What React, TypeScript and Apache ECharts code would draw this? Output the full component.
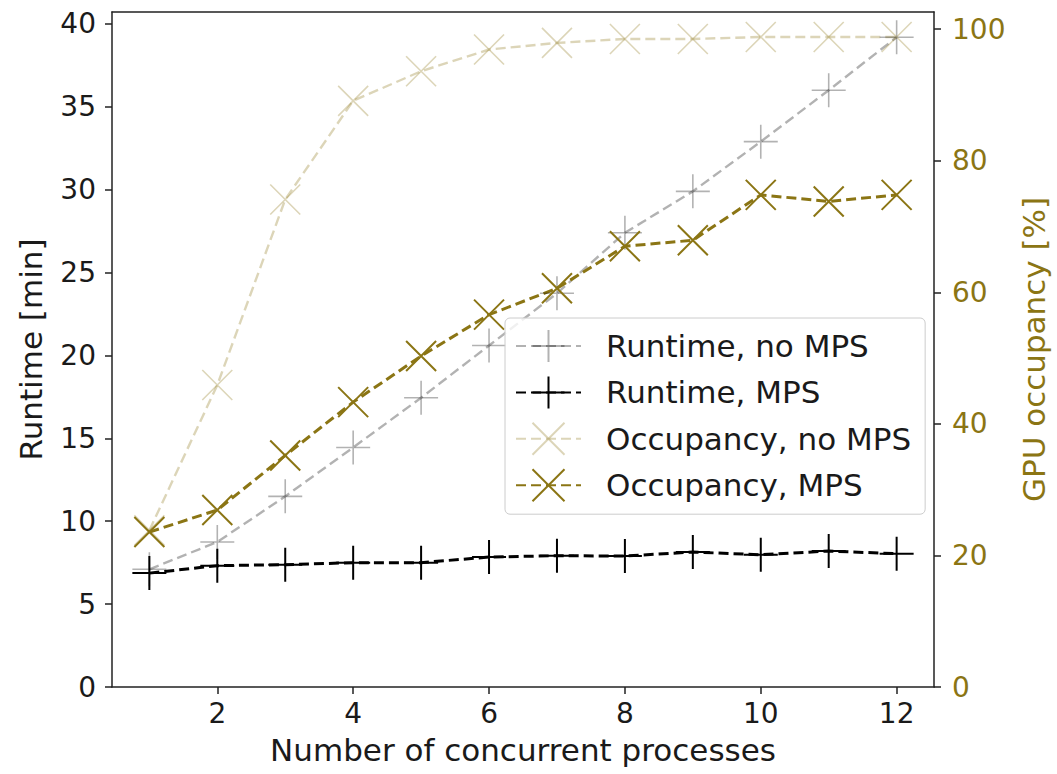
import React, { useEffect, useRef } from 'react';
import * as echarts from 'echarts';

const processes = [1, 2, 3, 4, 5, 6, 7, 8, 9, 10, 11, 12];
const runtimeNoMps = [7.1, 8.75, 11.5, 14.45, 17.45, 20.6, 23.75, 27.4, 29.9, 32.9, 36.0, 39.2];
const runtimeMps = [6.87, 7.32, 7.38, 7.5, 7.5, 7.84, 7.92, 7.9, 8.14, 7.98, 8.2, 8.04];
const occupancyNoMps = [23.8, 45.9, 74.1, 89.1, 93.6, 96.9, 97.9, 98.5, 98.5, 98.8, 98.8, 98.8];
const occupancyMps = [23.55, 26.9, 35.2, 43.3, 50.3, 56.6, 60.6, 67.0, 67.9, 74.8, 73.8, 74.8];

const xTicks = [2, 4, 6, 8, 10, 12];
const runtimeTicks = [0, 5, 10, 15, 20, 25, 30, 35, 40];
const occupancyTicks = [0, 20, 40, 60, 80, 100];

const FONT = 'DejaVu Sans';
const GOLD = '#8b7514';
const GOLD_LIGHT = 'rgba(139,117,20,0.3)';
const GRAY = 'rgba(0,0,0,0.3)';
const BLACK = '#000000';
const TEXT = '#1a1a1a';

const PLUS = 'path://M10,0 L10,20 M0,10 L20,10';
const CROSS = 'path://M0,0 L20,20 M20,0 L0,20';

const pairs = (ys: number[]) => processes.map((x, i) => [x, ys[i]]);

export default function App() {
  const ref = useRef<HTMLDivElement>(null);
  useEffect(() => {
    document.body.style.margin = '0';
    const chart = echarts.init(ref.current!, null, { renderer: 'svg' });
    const mk = (name: string, data: number[], yAxisIndex: number, color: string, symbol: string, size: number, lw: number, mw: number) => ({
      name,
      type: 'line',
      yAxisIndex,
      data: pairs(data),
      symbol,
      symbolSize: size,
      symbolKeepAspect: true,
      showAllSymbol: true,
      lineStyle: { color, width: lw, type: [10, 5] },
      itemStyle: { color: 'transparent', borderColor: color, borderWidth: mw },
      emphasis: { disabled: true },
    });
    chart.setOption({
      animation: false,
      textStyle: { fontFamily: FONT },
      grid: { left: 112, right: 118, top: 12, bottom: 87, containLabel: false },
      xAxis: [
        {
          type: 'value',
          min: 0.45,
          max: 12.55,
          name: 'Number of concurrent processes',
          nameLocation: 'middle',
          nameGap: 47,
          nameTextStyle: { fontSize: 31, color: TEXT, fontFamily: FONT },
          axisLine: { show: true, onZero: false, lineStyle: { color: '#222', width: 1.5 } },
          axisTick: { show: true, length: 7, lineStyle: { color: '#222', width: 1.5 }, customValues: xTicks },
          axisLabel: { fontSize: 28, color: TEXT, margin: 12, fontFamily: FONT, customValues: xTicks },
          splitLine: { show: false },
        },
        {
          type: 'value',
          position: 'top',
          min: 0.45,
          max: 12.55,
          axisLine: { show: true, onZero: false, lineStyle: { color: '#222', width: 1.5 } },
          axisTick: { show: false },
          axisLabel: { show: false },
          splitLine: { show: false },
        },
      ],
      yAxis: [
        {
          type: 'value',
          min: 0,
          max: 40.72,
          name: 'Runtime [min]',
          nameLocation: 'middle',
          nameRotate: 90,
          nameGap: 66,
          nameTextStyle: { fontSize: 31, color: TEXT, fontFamily: FONT },
          axisLine: { show: true, onZero: false, lineStyle: { color: '#222', width: 1.5 } },
          axisTick: { show: true, length: 7, lineStyle: { color: '#222', width: 1.5 }, customValues: runtimeTicks },
          axisLabel: { fontSize: 28, color: TEXT, margin: 16, fontFamily: FONT, customValues: runtimeTicks },
          splitLine: { show: false },
        },
        {
          type: 'value',
          min: 0,
          max: 102.6,
          position: 'right',
          name: 'GPU occupancy [%]',
          nameLocation: 'middle',
          nameRotate: 90,
          nameGap: 84,
          nameTextStyle: { fontSize: 31, color: GOLD, fontFamily: FONT },
          axisLine: { show: true, onZero: false, lineStyle: { color: '#222', width: 1.5 } },
          axisTick: { show: true, length: 7, lineStyle: { color: '#222', width: 1.5 }, customValues: occupancyTicks },
          axisLabel: { fontSize: 28, color: GOLD, margin: 18, fontFamily: FONT, customValues: occupancyTicks },
          splitLine: { show: false },
        },
      ],
      legend: {
        orient: 'vertical',
        left: 505,
        top: 318,
        itemWidth: 65,
        itemHeight: 40,
        itemGap: 12.4,
        padding: [11, 14, 12, 10],
        backgroundColor: 'rgba(255,255,255,0.8)',
        borderColor: '#cccccc',
        borderWidth: 1,
        borderRadius: 5,
        selectedMode: false,
        textStyle: { fontSize: 31, color: TEXT, fontFamily: FONT, padding: [0, 0, 0, 20] },
        data: ['Runtime, no MPS', 'Runtime, MPS', 'Occupancy, no MPS', 'Occupancy, MPS'],
      },
      series: [
        mk('Runtime, no MPS', runtimeNoMps, 0, GRAY, PLUS, 34, 2.4, 1.6),
        mk('Runtime, MPS', runtimeMps, 0, BLACK, PLUS, 34, 3, 2),
        mk('Occupancy, no MPS', occupancyNoMps, 1, GOLD_LIGHT, CROSS, 30, 2.4, 1.6),
        mk('Occupancy, MPS', occupancyMps, 1, GOLD, CROSS, 30, 3, 2),
      ],
    });
    return () => chart.dispose();
  }, []);
  return <div ref={ref} style={{ width: 1057, height: 774 }} />;
}
